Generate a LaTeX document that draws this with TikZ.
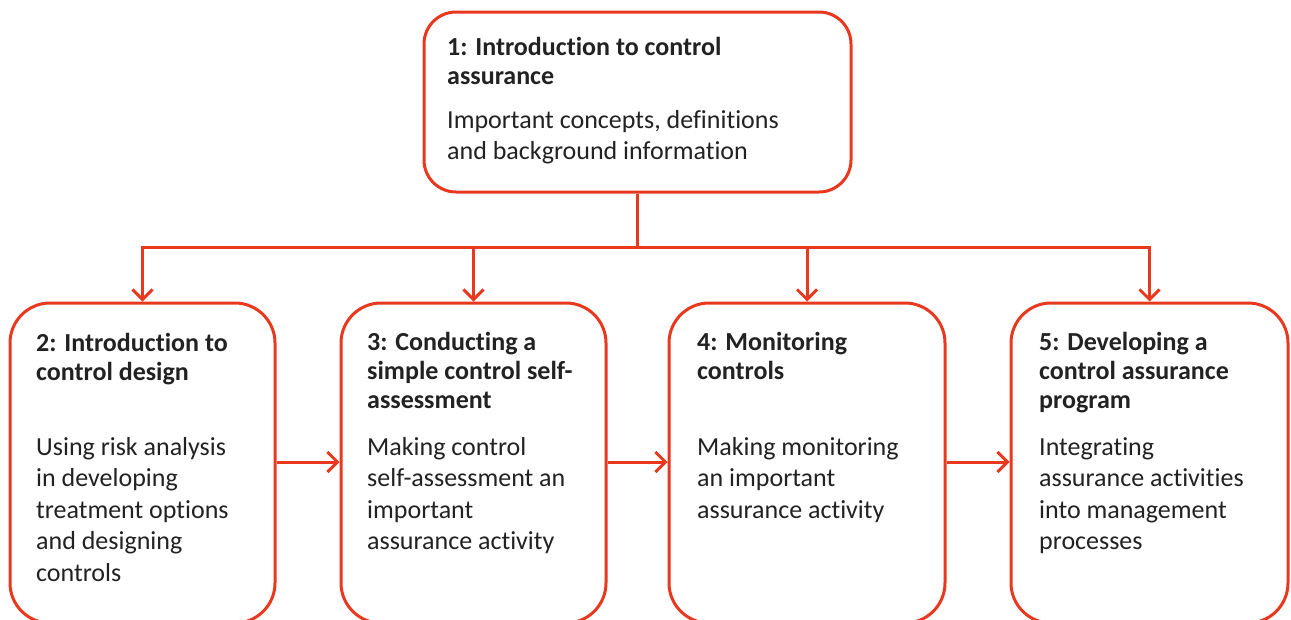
\documentclass[tikz,border=0pt]{standalone}
\usepackage{fontspec}
\setmainfont{Carlito}[Ligatures=NoCommon]
\usetikzlibrary{arrows.meta}
\definecolor{accent}{RGB}{232,56,30}
\definecolor{ink}{RGB}{34,34,34}
\begin{document}
\begin{tikzpicture}[x=1pt,y=-1pt,
  card/.style={draw=accent, line width=3pt, fill=white, rounded corners=40pt, inner sep=0pt},
  topcard/.style={card, rounded corners=32pt},
  % multi-line labels: the base anchor sits on the baseline of the last line
  head/.style={anchor=base west, inner sep=0pt, align=left, font=\fontsize{26}{29}\bfseries\selectfont, text=ink},
  body/.style={anchor=base west, inner sep=0pt, align=left, font=\fontsize{26}{31.5}\selectfont, text=ink},
  wire/.style={draw=accent, line width=3pt},
  link/.style={wire, -{Straight Barb[length=10pt,width=20pt]}},
]
\useasboundingbox (0,0) rectangle (1291,619);
\clip (0,0) rectangle (1291,619);

% boxes
\node[topcard, minimum width=427pt, minimum height=180pt] (n1) at (637.5,102) {};
\node[card, minimum width=265pt, minimum height=320pt] (n2) at (142.5,463) {};
\node[card, minimum width=265pt, minimum height=320pt] (n3) at (473.5,463) {};
\node[card, minimum width=276pt, minimum height=320pt] (n4) at (807,463) {};
\node[card, minimum width=277pt, minimum height=320pt] (n5) at (1149.5,463) {};

% texts
\node[head] (h1) at (447,84) {1: Introduction to control\\assurance};
\node[body] (b1) at (447,159.5) {Important concepts, definitions\\and background information};
\node[head] (h2) at (36,380) {2: Introduction to\\control design};
\node[body] (b2) at (36,581) {Using risk analysis\\in developing\\treatment options\\and designing\\controls};
\node[head] (h3) at (367,408) {3: Conducting a\\simple control self-\\assessment};
\node[body] (b3) at (367,549.5) {Making control\\self-assessment an\\important\\assurance activity};
\node[head] (h4) at (697,379) {4: Monitoring\\controls};
\node[body] (b4) at (697,518) {Making monitoring\\an important\\assurance activity};
\node[head] (h5) at (1039,408) {5: Developing a\\control assurance\\program};
\node[body] (b5) at (1039,549.5) {Integrating\\assurance activities\\into management\\processes};

% distribution tree
\coordinate (bus) at (637.5,247);
\draw[wire] (n1.south) -- (bus);
\draw[wire, line cap=rect] (n2.north |- bus) -- (n5.north |- bus);
\foreach \n in {n2,n3,n4,n5}
  \draw[link] (\n.north |- bus) -- (\n.north);

% sequence arrows
\draw[link] (n2.east |- 0,462) -- (n3.west |- 0,462);
\draw[link] (n3.east |- 0,462) -- (n4.west |- 0,462);
\draw[link] (n4.east |- 0,462) -- (n5.west |- 0,462);
\end{tikzpicture}
\end{document}
